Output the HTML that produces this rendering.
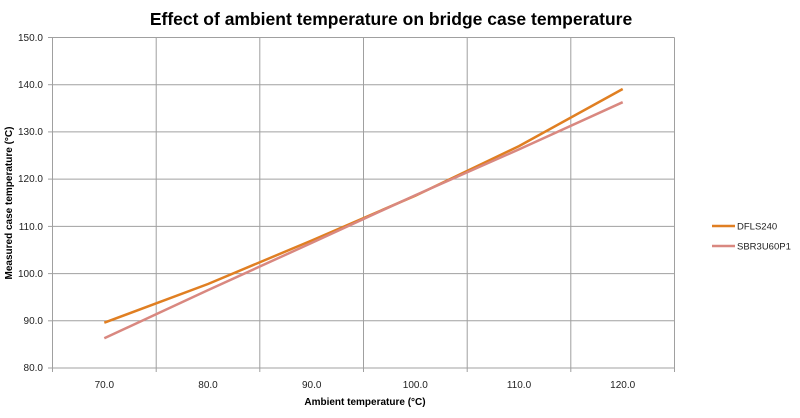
<!DOCTYPE html>
<html><head><meta charset="utf-8"><style>body{margin:0;background:#fff}</style></head><body>
<svg width="800" height="413" xmlns="http://www.w3.org/2000/svg" font-family="Liberation Sans, sans-serif">
<rect width="800" height="413" fill="#fff"/>
<text x="391" y="25" text-anchor="middle" font-size="17.5" font-weight="bold" fill="#000">Effect of ambient temperature on bridge case temperature</text>
<g stroke="#a0a0a0" stroke-width="1">
<line x1="52.5" y1="37.5" x2="674.5" y2="37.5"/>
<line x1="52.5" y1="84.7" x2="674.5" y2="84.7"/>
<line x1="52.5" y1="131.9" x2="674.5" y2="131.9"/>
<line x1="52.5" y1="179.1" x2="674.5" y2="179.1"/>
<line x1="52.5" y1="226.4" x2="674.5" y2="226.4"/>
<line x1="52.5" y1="273.6" x2="674.5" y2="273.6"/>
<line x1="52.5" y1="320.8" x2="674.5" y2="320.8"/>
<line x1="48" y1="368" x2="674.5" y2="368"/>
<line x1="52.5" y1="37.5" x2="52.5" y2="372"/>
<line x1="156.2" y1="37.5" x2="156.2" y2="372"/>
<line x1="259.8" y1="37.5" x2="259.8" y2="372"/>
<line x1="363.5" y1="37.5" x2="363.5" y2="372"/>
<line x1="467.2" y1="37.5" x2="467.2" y2="372"/>
<line x1="570.8" y1="37.5" x2="570.8" y2="372"/>
<line x1="674.5" y1="37.5" x2="674.5" y2="372"/>
<line x1="48" y1="37.5" x2="52.5" y2="37.5"/><line x1="48" y1="84.7" x2="52.5" y2="84.7"/><line x1="48" y1="131.9" x2="52.5" y2="131.9"/><line x1="48" y1="179.1" x2="52.5" y2="179.1"/><line x1="48" y1="226.4" x2="52.5" y2="226.4"/><line x1="48" y1="273.6" x2="52.5" y2="273.6"/><line x1="48" y1="320.8" x2="52.5" y2="320.8"/>
</g>
<g font-size="10" fill="#222" text-anchor="end">
<text x="43" y="41">150.0</text><text x="43" y="88">140.0</text><text x="43" y="135">130.0</text><text x="43" y="182">120.0</text><text x="43" y="230">110.0</text><text x="43" y="277">100.0</text><text x="43" y="324">90.0</text><text x="43" y="371">80.0</text>
</g>
<g font-size="10" fill="#222" text-anchor="middle">
<text x="104.3" y="388">70.0</text><text x="208" y="388">80.0</text><text x="311.7" y="388">90.0</text><text x="415.3" y="388">100.0</text><text x="519" y="388">110.0</text><text x="622.7" y="388">120.0</text>
</g>
<text x="365" y="405" text-anchor="middle" font-size="10" font-weight="bold">Ambient temperature  (°C)</text>
<text transform="translate(12,203) rotate(-90)" text-anchor="middle" font-size="10" font-weight="bold">Measured case temperature (°C)</text>
<polyline fill="none" stroke="#e07f22" stroke-width="2.5" points="104.3,322.7 208,284 311.7,240.5 415.3,195.7 519,146.1 622.7,89"/>
<polyline fill="none" stroke="#d98880" stroke-width="2.5" points="104.3,338.3 208,290.1 311.7,242.9 415.3,195.2 519,149.4 622.7,102.2"/>
<line x1="712" y1="226" x2="735" y2="226" stroke="#e07f22" stroke-width="2.5"/>
<text x="737" y="229.5" font-size="9.5" fill="#222">DFLS240</text>
<line x1="712" y1="246" x2="735" y2="246" stroke="#d98880" stroke-width="2.5"/>
<text x="737" y="249.5" font-size="9.5" fill="#222">SBR3U60P1</text>
</svg>
</body></html>
